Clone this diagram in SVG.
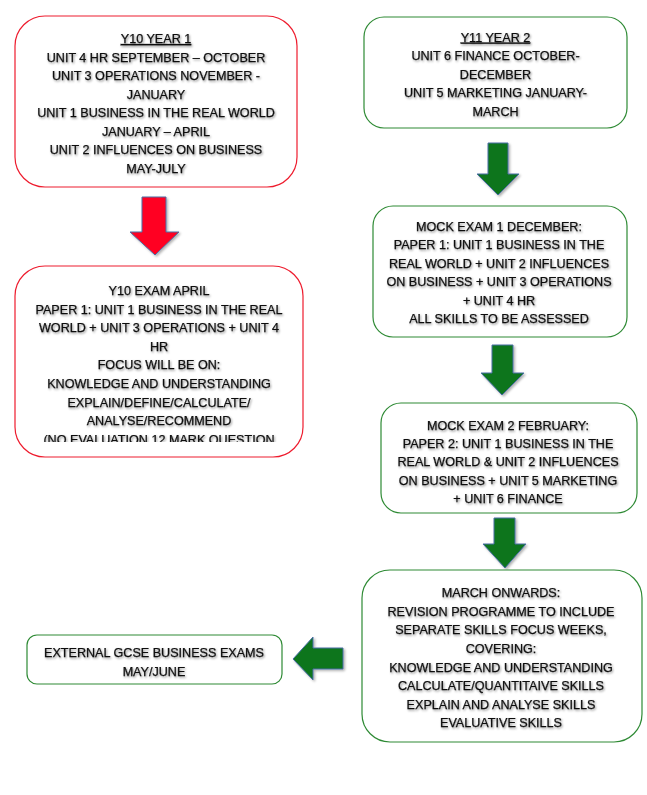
<svg xmlns="http://www.w3.org/2000/svg" width="647" height="795" viewBox="0 0 647 795">
  <defs>
    <filter id="ts" x="-10%" y="-30%" width="120%" height="160%">
      <feDropShadow dx="1" dy="1.3" stdDeviation="1" flood-color="#000" flood-opacity="0.45"/>
    </filter>
    <filter id="as" x="-30%" y="-30%" width="160%" height="160%">
      <feDropShadow dx="1.5" dy="1.5" stdDeviation="1.2" flood-color="#000" flood-opacity="0.3"/>
    </filter>
    <clipPath id="clip3">
      <rect x="15" y="266" width="288" height="176"/>
    </clipPath>
    <style>
      .box { fill: #ffffff; stroke-width: 1.2; }
      .red { stroke: #ee1c2e; }
      .grn { stroke: #2e8a34; }
      .t { font-family: "Liberation Sans", Arial, sans-serif; font-size: 12.6px; fill: #111; stroke: #111; stroke-width: 0.25; text-anchor: middle; }
      .arr-r { fill: #ff0020; stroke: #4a6fa5; stroke-width: 1; }
      .arr-g { fill: #0a741f; stroke: #4a6fa5; stroke-width: 1; }
    </style>
  </defs>
  <rect width="647" height="795" fill="#ffffff"/>

  <g id="connectors">
    <polygon class="arr-r" filter="url(#as)" points="142,197 166,197 166,232 179,232 155,255 130,232 142,232"/>
    <polygon class="arr-g" filter="url(#as)" points="488,143 508,143 508,174 519,174 498,195 477,174 488,174"/>
    <polygon class="arr-g" filter="url(#as)" points="492,345 513,345 513,373 524,373 502,395 481,373 492,373"/>
    <polygon class="arr-g" filter="url(#as)" points="494,518 515,518 515,544 526,544 505,568 483,544 494,544"/>
    <polygon class="arr-g" filter="url(#as)" points="343,648 343,669 313,669 313,680 293,659 313,637 313,648"/>
  </g>

  <g id="y10-year1">
    <rect class="box red" x="15" y="16" width="282" height="171" rx="30" ry="30"/>
    <g class="t" filter="url(#ts)">
      <text x="156" y="43" text-decoration="underline">Y10 YEAR 1</text>
      <text x="156" y="61.5">UNIT 4 HR SEPTEMBER – OCTOBER</text>
      <text x="156" y="80">UNIT 3 OPERATIONS NOVEMBER -</text>
      <text x="156" y="98.5">JANUARY</text>
      <text x="156" y="117">UNIT 1 BUSINESS IN THE REAL WORLD</text>
      <text x="156" y="135.5">JANUARY – APRIL</text>
      <text x="156" y="154">UNIT 2 INFLUENCES ON BUSINESS</text>
      <text x="156" y="172.5">MAY-JULY</text>
    </g>
  </g>

  <g id="y11-year2">
    <rect class="box grn" x="364" y="17" width="263" height="111" rx="20" ry="20"/>
    <g class="t" filter="url(#ts)">
      <text x="495.5" y="41.5" text-decoration="underline">Y11 YEAR 2</text>
      <text x="495.5" y="60">UNIT 6 FINANCE OCTOBER-</text>
      <text x="495.5" y="78.5">DECEMBER</text>
      <text x="495.5" y="97">UNIT 5 MARKETING JANUARY-</text>
      <text x="495.5" y="115.5">MARCH</text>
    </g>
  </g>

  <g id="y10-exam">
    <rect class="box red" x="15" y="266" width="288" height="191" rx="30" ry="30"/>
    <g clip-path="url(#clip3)">
      <g class="t" filter="url(#ts)">
        <text x="159" y="294.5">Y10 EXAM APRIL</text>
        <text x="159" y="313.5">PAPER 1: UNIT 1 BUSINESS IN THE REAL</text>
        <text x="159" y="332">WORLD + UNIT 3 OPERATIONS + UNIT 4</text>
        <text x="159" y="350.5">HR</text>
        <text x="159" y="369">FOCUS WILL BE ON:</text>
        <text x="159" y="388">KNOWLEDGE AND UNDERSTANDING</text>
        <text x="159" y="406.5">EXPLAIN/DEFINE/CALCULATE/</text>
        <text x="159" y="425">ANALYSE/RECOMMEND</text>
        <text x="159" y="444">(NO EVALUATION 12 MARK QUESTION</text>
      </g>
    </g>
  </g>

  <g id="mock1">
    <rect class="box grn" x="373" y="206" width="254" height="131" rx="20" ry="20"/>
    <g class="t" filter="url(#ts)">
      <text x="499" y="230.5">MOCK EXAM 1 DECEMBER:</text>
      <text x="499" y="249">PAPER 1: UNIT 1 BUSINESS IN THE</text>
      <text x="499" y="267.5">REAL WORLD + UNIT 2 INFLUENCES</text>
      <text x="499" y="286">ON BUSINESS + UNIT 3 OPERATIONS</text>
      <text x="499" y="304.5">+ UNIT 4 HR</text>
      <text x="499" y="323">ALL SKILLS TO BE ASSESSED</text>
    </g>
  </g>

  <g id="mock2">
    <rect class="box grn" x="381" y="403" width="256" height="110" rx="20" ry="20"/>
    <g class="t" filter="url(#ts)">
      <text x="508" y="429.5">MOCK EXAM 2 FEBRUARY:</text>
      <text x="508" y="447.5">PAPER 2: UNIT 1 BUSINESS IN THE</text>
      <text x="508" y="466">REAL WORLD &amp; UNIT 2 INFLUENCES</text>
      <text x="508" y="484.5">ON BUSINESS + UNIT 5 MARKETING</text>
      <text x="508" y="503">+ UNIT 6 FINANCE</text>
    </g>
  </g>

  <g id="march-onwards">
    <rect class="box grn" x="362" y="570" width="280" height="172" rx="28" ry="28"/>
    <g class="t" filter="url(#ts)">
      <text x="501" y="596.5">MARCH ONWARDS:</text>
      <text x="501" y="615.5">REVISION PROGRAMME TO INCLUDE</text>
      <text x="501" y="633.5">SEPARATE SKILLS FOCUS WEEKS,</text>
      <text x="501" y="652.5">COVERING:</text>
      <text x="501" y="671.5">KNOWLEDGE AND UNDERSTANDING</text>
      <text x="501" y="689.5">CALCULATE/QUANTITAIVE SKILLS</text>
      <text x="501" y="708.5">EXPLAIN AND ANALYSE SKILLS</text>
      <text x="501" y="726.5">EVALUATIVE SKILLS</text>
    </g>
  </g>

  <g id="external-exams">
    <rect class="box grn" x="27" y="635" width="255" height="49" rx="10" ry="10"/>
    <g class="t" filter="url(#ts)">
      <text x="154" y="656.5">EXTERNAL GCSE BUSINESS EXAMS</text>
      <text x="154" y="675.5">MAY/JUNE</text>
    </g>
  </g>
</svg>
